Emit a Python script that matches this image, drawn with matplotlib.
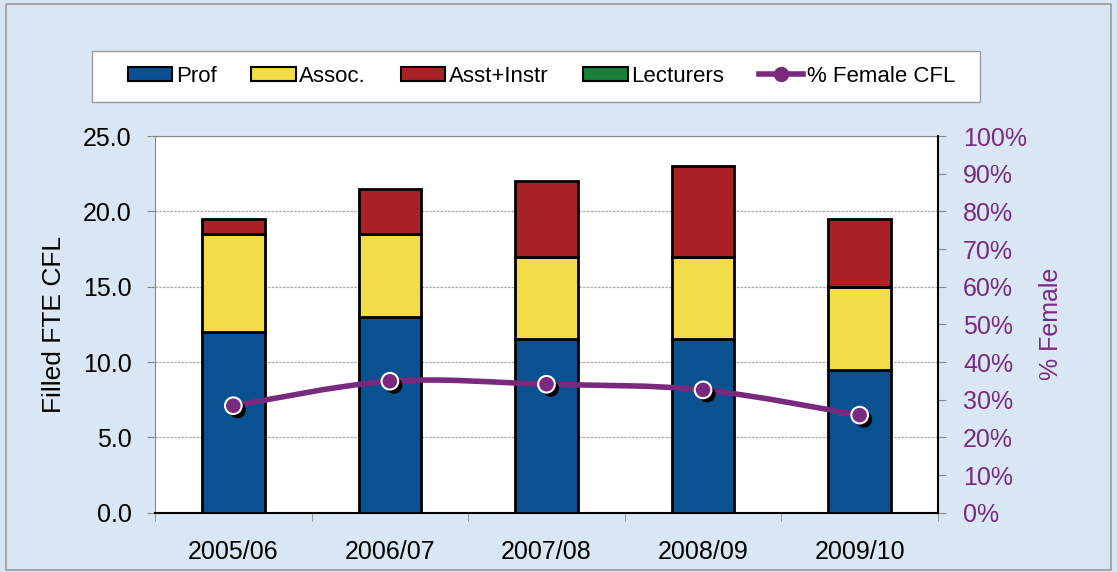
import numpy as np
import matplotlib.pyplot as plt
from matplotlib.path import Path
from matplotlib.patches import PathPatch, Patch
from matplotlib.lines import Line2D
import matplotlib.patheffects as pe

plt.rcParams['font.family'] = ['Liberation Sans', 'DejaVu Sans']

# Data
years = ['2005/06', '2006/07', '2007/08', '2008/09', '2009/10']
prof = [12.0, 13.0, 11.5, 11.5, 9.5]
assoc = [6.5, 5.5, 5.5, 5.5, 5.5]
asst = [1.0, 3.0, 5.0, 6.0, 4.5]
lecturers = [0.0, 0.0, 0.0, 0.0, 0.0]
pct_female = [0.284, 0.349, 0.341, 0.326, 0.259]

c_prof = '#0A5191'
c_assoc = '#F2DC48'
c_asst = '#AA2126'
c_lect = '#178039'
c_purple = '#7A2A7E'

fig = plt.figure(figsize=(11.17, 5.72), dpi=100)
fig.patch.set_facecolor('#D8E7F3')
# thin grey frame around the figure
fig.add_artist(plt.Rectangle((0.005, 0.004), 0.99, 0.989, transform=fig.transFigure,
                             fill=False, edgecolor='#9A9A9A', lw=1.2))
# white box behind the legend
fig.add_artist(plt.Rectangle((0.0824, 0.8217), 0.795, 0.0892, transform=fig.transFigure,
                             facecolor='white', edgecolor='#9A9A9A', lw=1.0))

ax = fig.add_axes([0.1388, 0.1037, 0.7009, 0.6585])
ax.set_facecolor('white')
x = np.arange(len(years))
w = 0.40

bottom = np.zeros(len(years))
for vals, col in [(prof, c_prof), (assoc, c_assoc), (asst, c_asst), (lecturers, c_lect)]:
    v = np.array(vals)
    if v.sum() > 0:
        ax.bar(x, v, w, bottom=bottom, color=col, edgecolor='black', linewidth=2, zorder=3)
    bottom += v

ax.set_xlim(-0.5, len(years) - 0.5)
ax.set_ylim(0, 25)
ax.set_yticks(np.arange(0, 25.1, 5))
ax.set_yticklabels([f'{t:.1f}' for t in np.arange(0, 25.1, 5)])
ax.yaxis.grid(True, color='#A8A8A8', lw=0.9, linestyle=(0, (2, 1)))
ax.set_axisbelow(True)
ax.set_xticks(x)
ax.set_xticklabels(years)
ax.set_xticks(np.arange(-0.5, len(years)), minor=True)
ax.tick_params(axis='x', which='major', length=0, labelsize=18, pad=20)
ax.tick_params(axis='x', which='minor', length=6, color='#888888', direction='out')
ax.tick_params(axis='y', length=6, color='#888888', labelsize=18, pad=11)
ax.set_ylabel('Filled FTE CFL', fontsize=19, labelpad=12)
ax.spines['left'].set_color('#888888')
ax.spines['top'].set_color('#888888')
ax.spines['bottom'].set_color('black')
ax.spines['bottom'].set_linewidth(1.5)
ax.spines['right'].set_visible(False)

ax2 = ax.twinx()
ax2.set_ylim(0, 1)
ax2.set_yticks(np.arange(0, 1.01, 0.1))
ax2.set_yticklabels([f'{int(round(t * 100))}%' for t in np.arange(0, 1.01, 0.1)])
ax2.tick_params(axis='y', length=6, color='#888888', labelsize=18, labelcolor=c_purple, pad=12)
for lbl in ax2.get_yticklabels():
    lbl.set_horizontalalignment('left')
ax2.set_ylabel('% Female', fontsize=18, color=c_purple, labelpad=9)
ax2.spines['right'].set_color('black')
ax2.spines['right'].set_linewidth(1.5)
for s in ['left', 'top', 'bottom']:
    ax2.spines[s].set_visible(False)

# smoothed line through the points (Catmull-Rom as cubic Bezier)
pts = np.column_stack([x, pct_female])
verts = [tuple(pts[0])]
codes = [Path.MOVETO]
n = len(pts)
for i in range(n - 1):
    p0 = pts[max(i - 1, 0)]
    p1 = pts[i]
    p2 = pts[i + 1]
    p3 = pts[min(i + 2, n - 1)]
    c1 = p1 + (p2 - p0) / 6
    c2 = p2 - (p3 - p1) / 6
    verts += [tuple(c1), tuple(c2), tuple(p2)]
    codes += [Path.CURVE4] * 3
ax2.add_patch(PathPatch(Path(verts, codes), facecolor='none', edgecolor=c_purple,
                        lw=4, capstyle='round', zorder=4))
ax2.plot(x, pct_female, linestyle='none', marker='o', markersize=12,
         markerfacecolor=c_purple, markeredgecolor='white', markeredgewidth=1.5, zorder=5,
         path_effects=[pe.SimplePatchShadow(offset=(3, -3), shadow_rgbFace='black', alpha=1.0),
                       pe.Normal()])

handles = [
    Patch(facecolor=c_prof, edgecolor='black', lw=1.5, label='Prof'),
    Patch(facecolor=c_assoc, edgecolor='black', lw=1.5, label='Assoc.'),
    Patch(facecolor=c_asst, edgecolor='black', lw=1.5, label='Asst+Instr'),
    Patch(facecolor=c_lect, edgecolor='black', lw=1.5, label='Lecturers'),
    Line2D([], [], color=c_purple, lw=4, marker='o', markersize=10,
           markerfacecolor=c_purple, markeredgecolor=c_purple, label='% Female CFL'),
]
leg = fig.legend(handles=handles, loc='center', ncol=5, mode='expand',
                 bbox_to_anchor=(0.1146, 0.84, 0.7404, 0.054), fontsize=16,
                 frameon=False, handlelength=2.0, handleheight=0.6, handletextpad=0.15,
                 borderpad=0, borderaxespad=0)

fig.savefig('out.png', dpi=100, facecolor=fig.get_facecolor())
